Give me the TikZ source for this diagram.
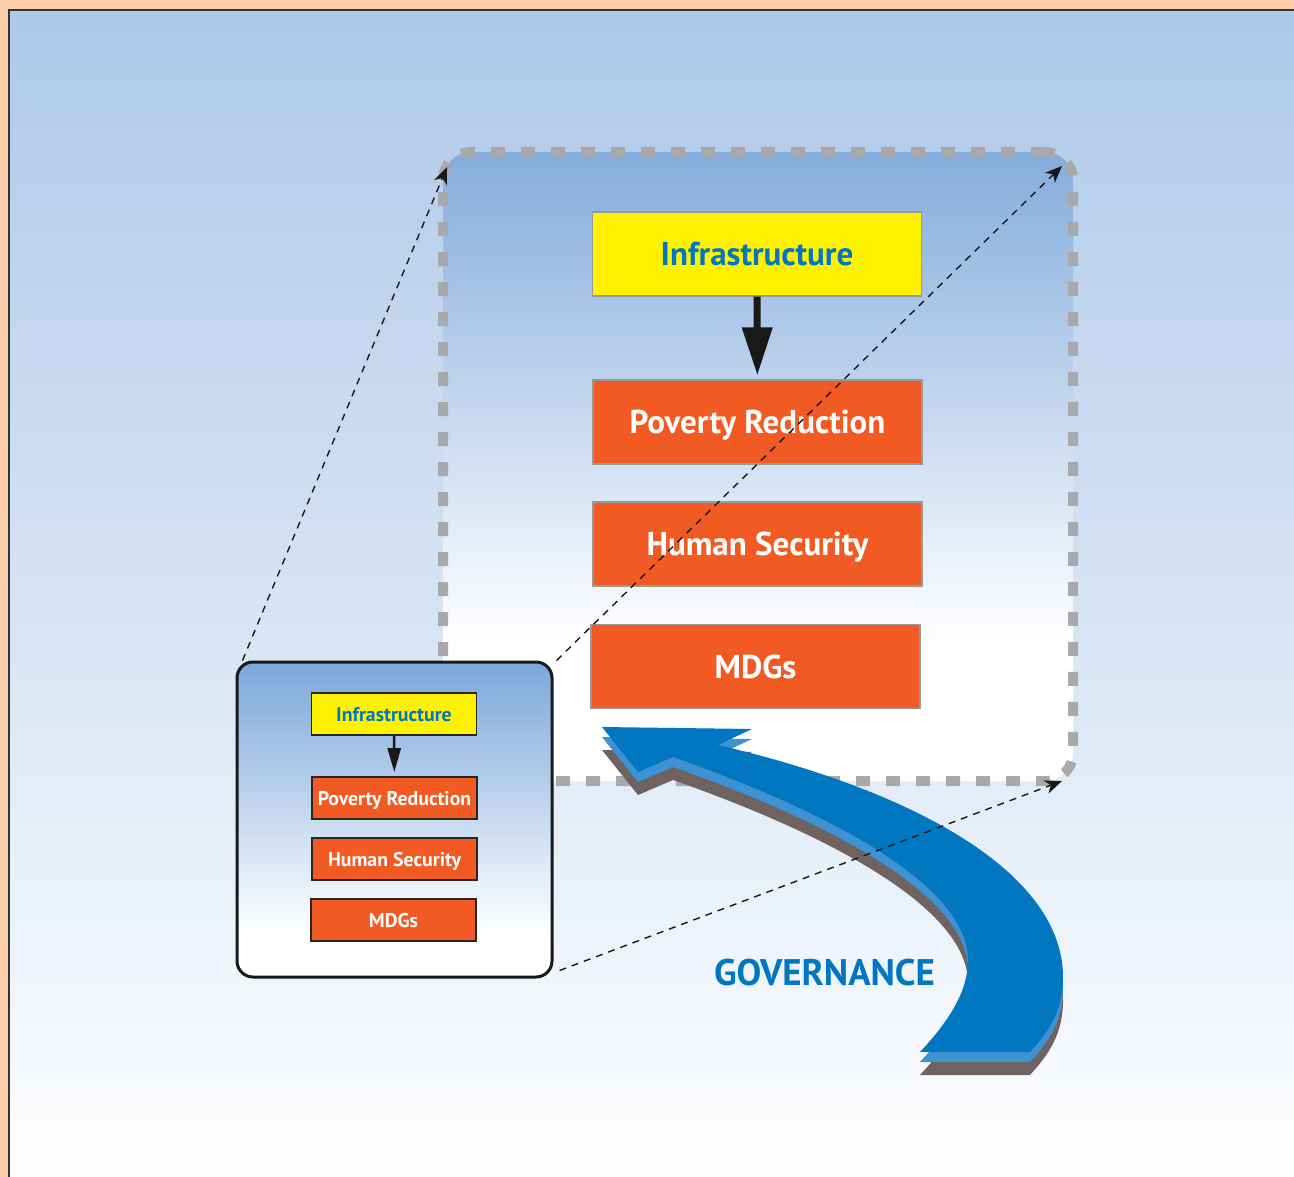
\documentclass[tikz,border=0pt]{standalone}
\usepackage{fontspec}
\setmainfont{PT Sans}
\usetikzlibrary{arrows.meta}
\pgfdeclarelayer{bglayer}
\pgfdeclarelayer{nodelayer}
\pgfdeclarelayer{edgelayer}
\pgfsetlayers{bglayer,main,nodelayer,edgelayer}
\definecolor{peach}{HTML}{FDCEAB}
\definecolor{skytop}{HTML}{ADC8E8}
\definecolor{frametop}{HTML}{84ACDC}
\definecolor{smalltop}{HTML}{7CA7DA}
\definecolor{dashgray}{HTML}{A7A9AC}
\definecolor{infrayellow}{HTML}{FFF200}
\definecolor{goalorange}{HTML}{F15A22}
\definecolor{govblue}{HTML}{0077C0}
\definecolor{govside}{HTML}{3F92D2}
\definecolor{govshadow}{HTML}{6E6361}
\pgfdeclareverticalshading{framefade}{100bp}{color(0bp)=(white); color(36bp)=(white); color(75bp)=(frametop); color(100bp)=(frametop)}
\pgfdeclareverticalshading{smallfade}{100bp}{color(0bp)=(white); color(32bp)=(white); color(75bp)=(smalltop); color(100bp)=(smalltop)}
\tikzstyle{bigbox}=[draw=black!40, line width=1.2pt, minimum width=329pt, minimum height=84pt, text height=23pt, text depth=0pt, font=\fontsize{33}{38}\selectfont\bfseries]
\tikzstyle{big infra}=[bigbox, fill=infrayellow, text=govblue]
\tikzstyle{big goal}=[bigbox, fill=goalorange, text=white]
\tikzstyle{smallbox}=[draw=black!85, line width=1.6pt, minimum width=165pt, minimum height=42pt, text height=14pt, text depth=0pt, font=\fontsize{19.8}{24}\selectfont\bfseries]
\tikzstyle{small infra}=[smallbox, fill=infrayellow, text=govblue]
\tikzstyle{small goal}=[smallbox, fill=goalorange, text=white]
\tikzstyle{zoom edge}=[black!90, line width=1.4pt, dash pattern=on 7pt off 6pt, -{Stealth[length=17pt,width=14pt,inset=5pt]}]

\begin{document}
\begin{tikzpicture}[x=1pt, y=-1pt]
    	\useasboundingbox (0,0) rectangle (1294,1177);
    	\begin{pgfonlayer}{bglayer}
    		\fill [peach] (0,0) rectangle (1294,1177);
    		\draw [line width=2pt, draw=black!80, top color=skytop, bottom color=white] (9,10) rectangle (1310,1190);
    		\node [draw=dashgray, line width=10pt, dash pattern=on 14pt off 16pt, rounded corners=28pt, shade, shading=framefade, minimum width=630pt, minimum height=629pt] (bigframe) at (758,466.5) {};
    		\node [draw=black!90, line width=3pt, rounded corners=16pt, shade, shading=smallfade, minimum width=315pt, minimum height=315pt] (smallframe) at (394.5,819.5) {};
    	\end{pgfonlayer}
    	% governance arrow: shadow, side, top
    	\foreach \dy/\tone in {23/govshadow, 10/govside, 0/govblue}
    		\fill [\tone, shift={(0,\dy)}] (602,727) -- (752,729) -- (718,745) .. controls (920,792) and (1063,875) .. (1063,977) .. controls (1063,1010) and (1050,1030) .. (1030,1052) -- (920,1052) .. controls (948,1022) and (968,992) .. (968,960) .. controls (968,880) and (810,805) .. (673,757) -- (638,772) -- cycle;
    	\node [text=govblue, font=\fontsize{37}{42}\selectfont\bfseries] (govlabel) at (824.5,973) {GOVERNANCE};
    	\begin{pgfonlayer}{nodelayer}
    		\node [style=big infra] (bigInfra) at (757,254) {Infrastructure};
    		\node [style=big goal] (bigPoverty) at (757.5,422) {Poverty Reduction};
    		\node [style=big goal] (bigSecurity) at (757.5,544) {Human Security};
    		\node [style=big goal] (bigMDG) at (755.5,666.5) {MDGs};
    		\node [style=small infra] (smallInfra) at (394,714) {Infrastructure};
    		\node [style=small goal] (smallPoverty) at (394.5,798) {Poverty Reduction};
    		\node [style=small goal] (smallSecurity) at (394.5,859) {Human Security};
    		\node [style=small goal] (smallMDG) at (393.5,920) {MDGs};
    	\end{pgfonlayer}
    	\begin{pgfonlayer}{edgelayer}
    		\coordinate (bigNW) at (447,167);
    		\coordinate (bigNE) at (1062,166);
    		\coordinate (bigSE) at (1062,781);
    		\draw [line width=7pt, black!90, -{Triangle[width=29pt,length=48pt]}, shorten >=4pt] (bigInfra) -- (bigPoverty);
    		\draw [line width=2.5pt, black!90, -{Triangle[width=13pt,length=24pt]}, shorten >=4pt] (smallInfra) -- (smallPoverty);
    		\draw [style=zoom edge] ([xshift=7pt]smallframe.north west) -- (bigNW);
    		\draw [style=zoom edge] ([xshift=3pt]smallframe.north east) -- (bigNE);
    		\draw [style=zoom edge] ([shift={(6,-8)}]smallframe.south east) -- (bigSE);
    	\end{pgfonlayer}
    \end{tikzpicture}
\end{document}
